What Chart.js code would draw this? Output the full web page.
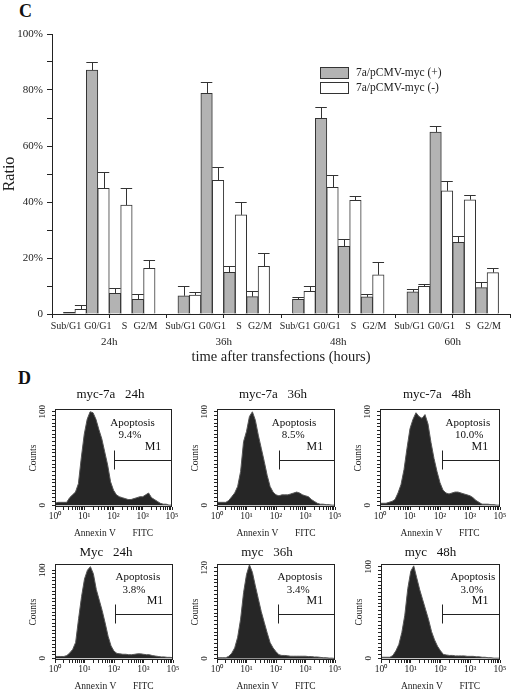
<!DOCTYPE html>
<html>
<head>
<meta charset="utf-8">
<script src="https://cdn.jsdelivr.net/npm/chart.js@4.4.1/dist/chart.umd.min.js"></script>
<style>
body{margin:0;background:#fff;width:512px;height:691px;position:relative;overflow:hidden;font-family:"Liberation Serif",serif;}
.box{position:absolute;}
.panel{position:absolute;font-weight:bold;font-size:18px;color:#111;}
</style>
</head>
<body>
<div class="panel" style="left:19px;top:1px">C</div>
<div class="panel" style="left:18px;top:368px">D</div>
<script>
// ---- panel C data ----
const groups = ['24h', '36h', '48h', '60h'];
const phases = ['Sub/G1', 'G0/G1', 'S', 'G2/M'];
const plusMean  = [0.5, 87.1, 7.4, 5.2,  6.5, 78.8, 14.9, 6.2,  5.2, 69.9, 24.2, 6.1,  7.9, 65.0, 25.6, 9.4];
const plusErr   = [0.3, 2.9, 1.8, 1.8,   3.6, 3.9, 2.1, 1.9,    1.0, 4.1, 2.6, 0.9,    1.1, 2.1, 2.4, 1.9];
const minusMean = [1.7, 44.9, 38.9, 16.3, 6.8, 47.7, 35.4, 17.0, 8.1, 45.2, 40.6, 14.0, 9.9, 44.0, 40.8, 14.8];
const minusErr  = [1.6, 5.7, 6.2, 2.9,   1.2, 4.7, 4.6, 4.8,    1.8, 4.4, 1.4, 4.6,    0.7, 3.4, 1.7, 1.5];
const legendNames = ['7a/pCMV-myc (+)', '7a/pCMV-myc (-)'];

// ---- panel D data ----
const bins = [0,0.1,0.2,0.3,0.4,0.5,0.6,0.7,0.8,0.9,1,1.1,1.2,1.3,1.4,1.5,1.6,1.7,1.8,1.9,2,
  2.1,2.2,2.3,2.4,2.5,2.6,2.7,2.8,2.9,3,3.1,3.2,3.3,3.4,3.5,3.6,3.7,3.8,3.9,4];
const histA24 = [2,3,3,3,3,8,11,14,23,51,76,92,100,99,92,81,71,57,43,25,16,11,9,8,7,6,6,7,8,9,9,11,13,8,6,4,2,1,1,0,0];
const histA36 = [3,3,3,3,5,9,13,20,36,68,79,95,100,91,75,61,47,32,20,14,11,10,11,11,11,12,13,14,13,11,10,9,6,4,2,1,1,0.5,0.5,0,0];
const histA48 = [2,2,2,3,4,6,13,22,38,61,82,92,99,95,93,97,87,67,50,36,24,16,13,12,13,14,14,13,12,11,10,8,5,3,1,1,1,0.5,0.5,0,0];
const histM24 = [2,2,2,2,3,6,10,18,45,70,90,100,104,96,78,66,54,40,25,14,8,5.5,5,4.5,4.5,4,4,4.5,5,5,4.5,4,4,3,2.5,2,1.5,1.5,1,1,0.5];
const histM36 = [1,1,1,1,3,7,14,28,52,87,111,124,114,96,79,62,48,34,21,14,9,5,4,4,3.5,3,3,3,3,3,3,2.5,2.5,2,2,1.5,1,1,0.5,0.5,0];
const histM48 = [1,1,1,1,3,8,15,28,47,76,95,101,88,75,64,53,42,29,20,13,8,4,3.5,3,3,2.5,2.5,2.5,2.5,2,2,2,1.5,1.5,1,1,0.5,0.5,0,0,0];
const histTitles = ['myc-7a   24h', 'myc-7a   36h', 'myc-7a   48h', 'Myc   24h', 'myc   36h', 'myc   48h'];
const apoptosisPct = ['9.4%', '8.5%', '10.0%', '3.8%', '3.4%', '3.0%'];
const m1Start = [2.02, 2.1, 2.07, 2.03, 2.07, 2.05];
const countTop = [100, 100, 100, 100, 120, 100];
const countMax = [103, 103, 103, 107, 125, 103];
const decadeLabels = ['10\u2070', '10\u00b9', '10\u00b2', '10\u00b3', '10\u2075'];

Chart.defaults.font.family = '"Liberation Serif", "Times New Roman", serif';
Chart.defaults.color = '#222';
Chart.defaults.animation = false;

function addCanvas(left, top, w, h) {
  let div = document.createElement('div');
  div.className = 'box';
  div.style.left = left + 'px';
  div.style.top = top + 'px';
  let cv = document.createElement('canvas');
  cv.width = w; cv.height = h;
  div.appendChild(cv);
  document.body.appendChild(div);
  return cv;
}

//panel C

// tick list of the lower axis: group edges / middles get a mark, phase names get a label
let phaseLabelPos = [0.61, 2.0, 3.17, 4.08];
let xTicks = [];
groups.forEach((g, gi) => {
  xTicks.push({value: gi * 5, label: '', mark: true});
  xTicks.push({value: gi * 5 + 2.5, label: '', mark: true});
  phases.forEach((p, pi) => xTicks.push({value: gi * 5 + phaseLabelPos[pi], label: p, mark: false}));
});
xTicks.push({value: 20, label: '', mark: true});
xTicks.sort((a, b) => a.value - b.value);

function barPoints(values, shift) {
  return values.map((v, i) => ({x: 5 * Math.floor(i / 4) + shift + i % 4, y: v}));
}

const errorBars = {
  id: 'errorBars',
  afterDatasetsDraw(chart) {
    let ctx = chart.ctx;
    let y = chart.scales.y;
    ctx.save();
    ctx.strokeStyle = '#333';
    ctx.lineWidth = 1;
    chart.data.datasets.forEach((ds, di) => {
      chart.getDatasetMeta(di).data.forEach((bar, i) => {
        let top = Math.round(y.getPixelForValue(ds.data[i].y + ds.err[i])) + 0.5;
        let cx = Math.round(bar.x) + 0.5;
        let half = bar.width / 2;
        ctx.beginPath();
        ctx.moveTo(cx, bar.y);
        ctx.lineTo(cx, top);
        ctx.moveTo(bar.x - half, top);
        ctx.lineTo(bar.x + half, top);
        ctx.stroke();
      });
    });
    ctx.restore();
  }
};

const boxLegend = {
  id: 'boxLegend',
  afterDraw(chart) {
    let ctx = chart.ctx;
    ctx.save();
    ctx.lineWidth = 1;
    ctx.strokeStyle = '#333';
    ctx.font = '11.5px "Liberation Serif"';
    ctx.textBaseline = 'middle';
    ctx.fillStyle = '#222';
    chart.data.datasets.forEach((ds, i) => {
      let top = 67 + i * 15;
      ctx.fillStyle = ds.backgroundColor;
      ctx.fillRect(320.5, top + 0.5, 28, 11);
      ctx.strokeRect(320.5, top + 0.5, 28, 11);
      ctx.fillStyle = '#222';
      ctx.fillText(ds.label, 356, top + 6);
    });
    ctx.restore();
  }
};

new Chart(addCanvas(0, 0, 512, 366), {
  type: 'bar',
  data: {
    datasets: [{
      label: legendNames[0],
      data: barPoints(plusMean, 0.75),
      err: plusErr,
      backgroundColor: '#b3b3b3',
      borderColor: '#333',
      borderWidth: 1,
      barThickness: 11.5,
      grouped: false
    }, {
      label: legendNames[1],
      data: barPoints(minusMean, 1.25),
      err: minusErr,
      backgroundColor: '#ffffff',
      borderColor: '#333',
      borderWidth: 1,
      barThickness: 11.5,
      grouped: false
    }]
  },
  options: {
    responsive: false,
    layout: {padding: {top: 34, right: 1, left: 0, bottom: 0}},
    plugins: {legend: {display: false}, tooltip: {enabled: false}},
    scales: {
      x: {
        type: 'linear', min: 0, max: 20, offset: false, weight: 0,
        afterBuildTicks: (s) => { s.ticks = xTicks.map(t => ({value: t.value})); },
        afterFit: (s) => { s.height = 18; },
        ticks: {autoSkip: false, maxRotation: 0, padding: 2, font: {size: 10},
          callback: (v, i) => xTicks[i] ? xTicks[i].label : ''},
        grid: {offset: false, drawOnChartArea: false, tickLength: 4,
          tickColor: (c) => (xTicks[c.index] && xTicks[c.index].mark) ? '#222' : 'rgba(0,0,0,0)'},
        border: {color: '#222'}
      },
      x2: {
        type: 'linear', position: 'bottom', min: 0, max: 20, offset: false, weight: 1,
        afterBuildTicks: (s) => { s.ticks = groups.map((g, i) => ({value: i * 5 + 2.5})); },
        afterFit: (s) => { s.height = 34; },
        ticks: {autoSkip: false, maxRotation: 0, padding: 4, font: {size: 11},
          callback: (v, i) => groups[i]},
        grid: {display: false, drawTicks: false, tickLength: 0},
        border: {display: false},
        title: {display: true, text: 'time after transfections (hours)', font: {size: 14.5}, padding: {top: 0, bottom: 0}}
      },
      y: {
        min: 0, max: 100,
        afterFit: (s) => { s.width = 52; },
        ticks: {stepSize: 10, padding: 4, font: {size: 11},
          callback: (v) => v === 0 ? '0' : (v % 20 === 0 ? v + '%' : '')},
        grid: {drawOnChartArea: false, tickLength: 5, color: '#222'},
        border: {color: '#222'},
        title: {display: true, text: 'Ratio', font: {size: 16}, padding: {top: 0, bottom: 0}}
      }
    }
  },
  plugins: [errorBars, boxLegend]
});

//panel D

const histData = [histA24, histA36, histA48, histM24, histM36, histM48];
const boxLeft = [55, 217, 380, 55, 217, 381];
const boxTop = [409, 409, 409, 564, 564, 564];
const boxW = [117, 118, 120, 118, 118, 119];
const boxH = [98, 98, 98, 96, 96, 96];
const titleDx = [-3, -3, -3, -8, -9, -10];
const titleDy = [-14, -14, -14, -11, -11, -11];
const apopX = [2.65, 2.61, 2.93, 2.81, 2.81, 3.09];
const pctX = [2.56, 2.58, 2.97, 2.68, 2.75, 3.06];
const m1X = [3.35, 3.32, 3.33, 3.39, 3.32, 3.33];

let xLogTicks = [];
for (let n = 0; n <= 4; n++) {
  xLogTicks.push(n);
  if (n < 4) for (let k = 2; k <= 9; k++) xLogTicks.push(n + Math.log10(k));
}

function makeHist(i) {
  let decor = {
    id: 'decor' + i,
    afterDraw(chart) {
      let ctx = chart.ctx, a = chart.chartArea, x = chart.scales.x, y = chart.scales.y;
      ctx.save();
      ctx.strokeStyle = '#222';
      ctx.lineWidth = 1;
      ctx.strokeRect(Math.round(a.left) + 0.5, Math.round(a.top) + 0.5, Math.round(a.width) - 1, Math.round(a.height) - 1);
      ctx.fillStyle = '#111';
      ctx.textAlign = 'center';
      ctx.textBaseline = 'middle';
      ctx.font = '13px "Liberation Serif"';
      ctx.fillText(histTitles[i], (a.left + a.right) / 2 + titleDx[i], a.top + titleDy[i]);
      ctx.font = '9px "Liberation Serif"';
      [0, countTop[i]].forEach(v => {
        ctx.save();
        ctx.translate(a.left - 12, y.getPixelForValue(v));
        ctx.rotate(-Math.PI / 2);
        ctx.fillText(String(v), 0, 0);
        ctx.restore();
      });
      ctx.font = '11px "Liberation Serif"';
      ctx.fillText('Apoptosis', x.getPixelForValue(apopX[i]), a.top + 0.14 * a.height);
      ctx.fillText(apoptosisPct[i], x.getPixelForValue(pctX[i]), a.top + 0.27 * a.height);
      ctx.font = '12px "Liberation Serif"';
      ctx.fillText('M1', x.getPixelForValue(m1X[i]), a.top + 0.385 * a.height);
      let mx = Math.round(x.getPixelForValue(m1Start[i])) + 0.5;
      let my = Math.round(a.top + 0.52 * a.height) + 0.5;
      ctx.beginPath();
      ctx.moveTo(mx, my);
      ctx.lineTo(a.right, my);
      ctx.moveTo(mx, my - 10);
      ctx.lineTo(mx, my + 9);
      ctx.stroke();
      ctx.restore();
    }
  };
  let step = countTop[i] === 120 ? 5 : 4;
  let yTicks = [];
  for (let v = 0; v <= countTop[i]; v += step) yTicks.push({value: v});

  new Chart(addCanvas(boxLeft[i] - 48, boxTop[i] - 24, boxW[i] + 56, boxH[i] + 56), {
    type: 'line',
    data: {
      datasets: [{
        data: bins.map((b, j) => ({x: b, y: histData[i][j]})),
        fill: 'origin',
        backgroundColor: '#262626',
        borderColor: '#555',
        borderWidth: 1,
        pointRadius: 0,
        tension: 0
      }]
    },
    options: {
      responsive: false,
      layout: {padding: {top: 24, right: 8, left: 0, bottom: 0}},
      plugins: {legend: {display: false}, tooltip: {enabled: false}},
      scales: {
        x: {
          type: 'linear', min: 0, max: 4,
          afterBuildTicks: (s) => { s.ticks = xLogTicks.map(v => ({value: v})); },
          afterFit: (s) => { s.height = 32; },
          ticks: {autoSkip: false, maxRotation: 0, padding: 1, font: {size: 9.5},
            callback: (v) => Number.isInteger(v) ? decadeLabels[v] : ''},
          grid: {drawOnChartArea: false, tickLength: 3, color: '#222'},
          border: {display: false},
          title: {display: true, text: 'Annexin V       FITC', font: {size: 9.5}, padding: {top: 1, bottom: 0}}
        },
        y: {
          min: -2, max: countMax[i],
          afterBuildTicks: (s) => { s.ticks = yTicks; },
          afterFit: (s) => { s.width = 48; },
          ticks: {display: false},
          grid: {drawOnChartArea: false, tickLength: 3, color: '#222'},
          border: {display: false},
          title: {display: true, text: 'Counts', font: {size: 9.5}, padding: {top: 21, bottom: 0}}
        }
      }
    },
    plugins: [decor]
  });
}

for (let i = 0; i < 6; i++) makeHist(i);
</script>
</body>
</html>
